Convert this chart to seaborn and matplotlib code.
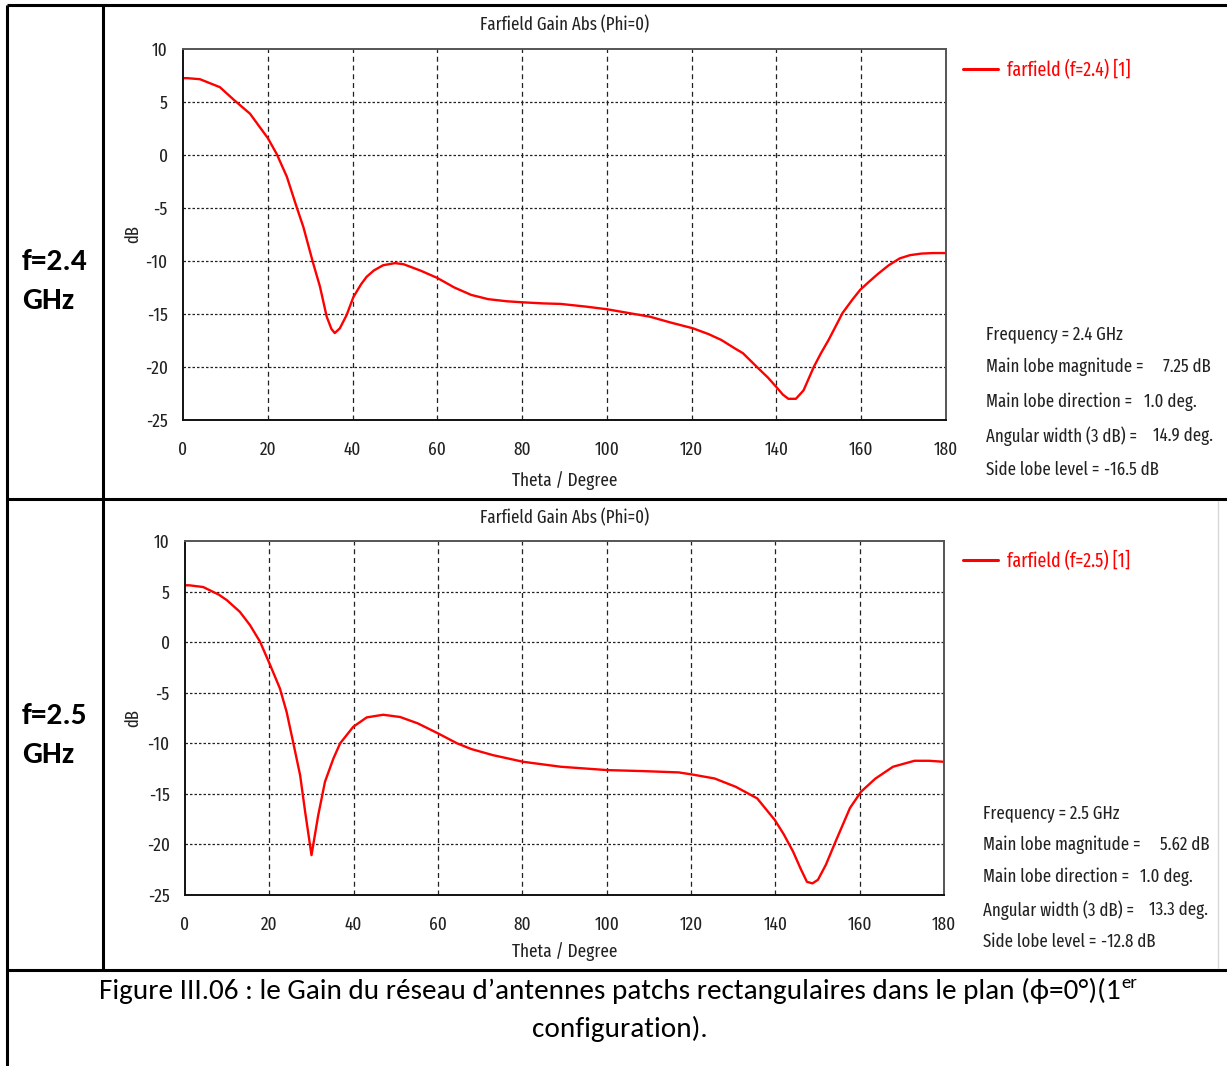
import numpy as np
import pandas as pd
import matplotlib
matplotlib.use("Agg")
import matplotlib.pyplot as plt
import seaborn as sns

# ---- data: farfield gain (dB) versus theta (deg), phi = 0 cut ----
theta_24 = [0, 1, 4, 8.7, 12, 15.8, 20, 22.1, 24.5, 26.8, 28.4, 30.7, 32.3, 33.9,
            35, 35.8, 37, 38.6, 40.2, 42, 43.3, 45, 47.2, 50, 52, 56, 60, 64, 68,
            72, 76.4, 80.2, 85, 89.1, 95, 100, 105, 110.1, 115, 120.3, 124, 127,
            130, 132.1, 135.4, 138, 140, 141.5, 142.8, 144.6, 146.4, 148.8, 150.5,
            152.3, 155.6, 158, 159.8, 162, 164, 166.5, 169.1, 171.5, 174.2, 177, 180]
gain_24 = [7.25, 7.25, 7.15, 6.4, 5.2, 3.9, 1.6, 0.1, -2.05, -4.9, -6.8, -10.2, -12.4, -15.25,
           -16.4, -16.8, -16.35, -15.1, -13.4, -12.2, -11.5, -10.9, -10.4, -10.2, -10.3, -10.9,
           -11.6, -12.5, -13.2, -13.6, -13.8, -13.9, -14.0, -14.05, -14.3, -14.55, -14.9,
           -15.25, -15.8, -16.35, -16.9, -17.45, -18.2, -18.7, -20.0, -21.0, -21.9, -22.6,
           -23.0, -23.0, -22.2, -20.0, -18.7, -17.45, -14.9, -13.6, -12.7, -11.9, -11.2,
           -10.4, -9.75, -9.45, -9.3, -9.25, -9.25]

theta_25 = [0, 1, 4.3, 8, 9.9, 13, 15.4, 17.8, 20.2, 22.5, 24.1, 25.7, 27.3, 28.5, 30,
            31.6, 33.2, 35.2, 36.8, 39.9, 43.1, 47, 51, 55.2, 60, 64.5, 67.9, 73, 80.2,
            89.1, 100.1, 108.6, 117.1, 120.2, 125.6, 130.6, 135.7, 139.9, 142, 144.2,
            146, 147.5, 148.8, 150.1, 152, 154.3, 157.7, 160.3, 163.7, 167.9, 173,
            176.4, 180]
gain_25 = [5.62, 5.62, 5.45, 4.7, 4.16, 3.0, 1.69, 0.04, -2.27, -4.57, -6.9, -10.0, -13.15,
           -16.8, -21.06, -17.1, -13.8, -11.5, -10.0, -8.37, -7.44, -7.18, -7.4, -8.03,
           -9.02, -10.0, -10.57, -11.17, -11.83, -12.32, -12.65, -12.75, -12.88, -13.08,
           -13.48, -14.3, -15.45, -17.6, -19.0, -20.7, -22.4, -23.7, -23.85, -23.5, -22.0,
           -19.7, -16.4, -14.8, -13.5, -12.32, -11.73, -11.73, -11.83]

freqs = [2.4, 2.5]
main_lobe_mag = [7.25, 5.62]
main_lobe_dir = [1.0, 1.0]
angular_width = [14.9, 13.3]
side_lobe_level = [-16.5, -12.8]

x_ticks = [0, 20, 40, 60, 80, 100, 120, 140, 160, 180]
y_ticks = [10, 5, 0, -5, -10, -15, -20, -25]

W, H = 1227, 1066
PLOTFONT = ["Fira Sans Extra Condensed", "DejaVu Sans"]
CAPFONT = ["Carlito", "DejaVu Sans"]
INK = "#222222"

sns.set_theme(style="white")
plt.rcParams["font.family"] = PLOTFONT

fig = plt.figure(figsize=(W / 100, H / 100), dpi=100)
fig.patch.set_facecolor("white")


def fx(px):
    return px / W


def fy(py):
    return 1 - py / H


# background layer in pixel coordinates for the table rules and captions
bg = fig.add_axes([0, 0, 1, 1], zorder=-5)
bg.set_xlim(0, W)
bg.set_ylim(H, 0)
bg.axis("off")

rule = dict(color="black", lw=2.2, solid_capstyle="butt")
bg.plot([7, W], [5, 5], **rule)
bg.plot([7, 7], [5, H], **rule)
bg.plot([103, 103], [5, 970], **rule)
bg.plot([7, W], [499, 499], **rule)
bg.plot([7, W], [970, 970], **rule)
bg.plot([1218, 1218], [501, 968], color="#d8d8d8", lw=1)

panels = [
    dict(theta=theta_24, gain=gain_24, box=(183, 49, 946, 420), title_y=25,
         xlab_y=481, ylab_x=133, leg_y=70, row=(262, 301)),
    dict(theta=theta_25, gain=gain_25, box=(185, 541, 944, 895), title_y=518,
         xlab_y=952, ylab_x=133, leg_y=561, row=(716, 755)),
]
info_x = [(986, 1163, 1144, 1153, 1104), (983, 1160, 1140, 1149, 1101)]
info_y = [(334, 367, 402, 436, 470), (813, 845, 877, 910, 942)]

for i, p in enumerate(panels):
    x0, y0, x1, y1 = p["box"]
    ax = fig.add_axes([fx(x0), fy(y1), fx(x1 - x0), (y1 - y0) / H])
    df = pd.DataFrame({"theta": p["theta"], "gain": p["gain"]})
    label = f"farfield (f={freqs[i]}) [1]"
    sns.lineplot(data=df, x="theta", y="gain", ax=ax, color="#ff0000",
                 lw=1.7, label=label, sort=False)
    ax.set_xlim(0, 180)
    ax.set_ylim(-25, 10)
    ax.set_xticks(x_ticks)
    ax.set_yticks(y_ticks)
    ax.set_xticklabels([str(t) for t in x_ticks])
    ax.set_yticklabels([str(t) for t in y_ticks])
    ax.tick_params(axis="both", direction="out", length=5, width=1.2,
                   color="#333333", labelcolor=INK, labelsize=13.5, pad=6)
    ax.tick_params(axis="x", pad=10)
    for s in ax.spines.values():
        s.set_color("#555555")
        s.set_linewidth(1.4)
    ax.spines["left"].set_color("#111111")
    ax.spines["bottom"].set_color("#111111")
    for t in x_ticks[1:-1]:
        ax.axvline(t, color=INK, lw=0.9, ls=(0, (4, 3)), zorder=0)
    for v in y_ticks[1:-1]:
        ax.axhline(v, color=INK, lw=0.9, ls=(0, (2, 1.6)), zorder=0)

    w_ax, h_ax = x1 - x0, y1 - y0
    ax.set_xlabel("Theta / Degree", fontsize=13.5, color=INK)
    ax.xaxis.set_label_coords(0.5, -(p["xlab_y"] - y1) / h_ax)
    ax.xaxis.label.set_va("center")
    ax.set_ylabel("dB", fontsize=13, color=INK)
    ax.yaxis.set_label_coords(-(x0 - p["ylab_x"]) / w_ax, 0.5)
    ax.yaxis.label.set_va("center")
    ax.set_title("Farfield Gain Abs (Phi=0)", fontsize=13.2, color=INK,
                 y=1 + (y0 - p["title_y"]) / h_ax, va="center", pad=0)
    ax.legend(loc="center left", bbox_to_anchor=(fx(963), fy(p["leg_y"])),
              bbox_transform=fig.transFigure, frameon=False, fontsize=14,
              borderpad=0, borderaxespad=0, handlelength=1.8,
              handletextpad=0.45, labelcolor="#ff0000")
    for line in ax.get_legend().get_lines():
        line.set_linewidth(2.2)

    xs = info_x[i]
    ys = info_y[i]
    txt = dict(fontsize=13.2, color=INK, va="center", ha="left")
    bg.text(xs[0], ys[0], f"Frequency = {freqs[i]} GHz", **txt)
    bg.text(xs[0], ys[1], "Main lobe magnitude =", **txt)
    bg.text(xs[1], ys[1], f"{main_lobe_mag[i]:.2f} dB", **txt)
    bg.text(xs[0], ys[2], "Main lobe direction =", **txt)
    bg.text(xs[2], ys[2], f"{main_lobe_dir[i]:.1f} deg.", **txt)
    bg.text(xs[0], ys[3], "Angular width (3 dB) =", **txt)
    bg.text(xs[3], ys[3], f"{angular_width[i]:.1f} deg.", **txt)
    bg.text(xs[0], ys[4], "Side lobe level =", **txt)
    bg.text(xs[4], ys[4], f"{side_lobe_level[i]:.1f} dB", **txt)

    bg.text(22, p["row"][0], f"f={freqs[i]}", fontsize=22.5, fontweight="bold",
            family=CAPFONT, va="center", ha="left", color="black")
    bg.text(22, p["row"][1], "GHz", fontsize=22.5, fontweight="bold",
            family=CAPFONT, va="center", ha="left", color="black")

# caption, with the ordinal suffix set as a superscript
cap = bg.text(99, 991, "Figure III.06 : le Gain du réseau d’antennes patchs rectangulaires dans le plan (ϕ=0°)(1",
              fontsize=21, family=CAPFONT, va="center", ha="left", color="black")
fig.canvas.draw()
bb = cap.get_window_extent(renderer=fig.canvas.get_renderer())
x_end = bb.x1 * 100 / fig.dpi
bg.text(x_end + 1, 983, "er", fontsize=13.5, family=CAPFONT, va="center",
        ha="left", color="black")
bg.text(620, 1029, "configuration).", fontsize=21, family=CAPFONT,
        va="center", ha="center", color="black")

fig.savefig("out.png", dpi=100, facecolor="white")
